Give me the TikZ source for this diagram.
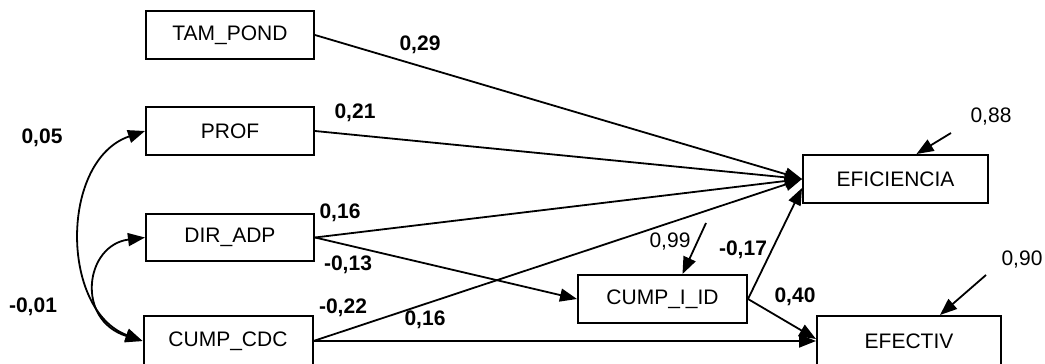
\documentclass[tikz,border=0pt]{standalone}
\usepackage{fontspec}
\setmainfont{Liberation Sans}
\usetikzlibrary{arrows.meta}
\begin{document}
\begin{tikzpicture}[x=1pt,y=-1pt,
  var/.style={draw,line width=2pt,minimum height=48pt,inner sep=0pt,font=\fontsize{21}{24}\selectfont},
  path/.style={line width=1.8pt,-{Triangle[length=17pt,width=13pt]}},
  cov/.style={line width=1.8pt,{Triangle[length=17pt,width=13pt]}-{Triangle[length=17pt,width=13pt]}},
  coef/.style={font=\fontsize{21}{24}\selectfont\bfseries},
  resid/.style={font=\fontsize{21}{24}\selectfont}]
\useasboundingbox (0,0) rectangle (1045,364);

% observed variables
\node[var,minimum width=168pt] (tam) at (230,35) {TAM\_POND};
\node[var,minimum width=168pt] (prof) at (230,131) {PROF};
\node[var,minimum width=168pt,minimum height=47pt] (dir) at (230,237.5) {DIR\_ADP};
\node[var,minimum width=169pt,minimum height=50pt] (cdc) at (228,341) {CUMP\_CDC};
\node[var,minimum width=169pt] (iid) at (662.5,299) {CUMP\_I\_ID};
\node[var,minimum width=185pt] (efi) at (895.5,179) {EFICIENCIA};
\node[var,minimum width=184pt,minimum height=50pt] (efe) at (909,341) {EFECTIV};

% residual sources
\coordinate (e88) at (951,133);
\coordinate (e90) at (986,275);
\coordinate (e99) at (706,223);

% direct effects
\draw[path] (tam.east) -- (efi.west);
\draw[path] (prof.east) -- (efi.west);
\draw[path] (dir.east) -- (efi.west);
\draw[path] (cdc.east) -- (efi.west);
\draw[path] (dir.east) -- (iid.west);
\draw[path] (iid.east) -- ([yshift=-9pt]efi.west);
\draw[path] (iid.east) -- ([yshift=2pt]efe.west);
\draw[path] (cdc.east) -- (efe.west);

% residuals
\draw[path] (e88) -- ([xshift=21pt]efi.north);
\draw[path] (e90) -- ([xshift=31pt]efe.north);
\draw[path] (e99) -- ([xshift=20pt]iid.north);

% correlations
\draw[cov] (prof.west) .. controls (60,160) and (60,310) .. (cdc.west);
\draw[cov] (dir.west) .. controls (85,245) and (75,320) .. (cdc.west);

% coefficients
\node[coef] (c1) at (420,45) {0,29};
\node[coef] (c2) at (355,113) {0,21};
\node[coef] (c3) at (340,213) {0,16};
\node[coef] (c4) at (348,265) {-0,13};
\node[coef] (c5) at (343,308) {-0,22};
\node[coef] (c6) at (425,320) {0,16};
\node[coef] (c7) at (743,250) {-0,17};
\node[coef] (c8) at (795,297) {0,40};
\node[coef] (c9) at (42,138) {0,05};
\node[coef] (c10) at (33,307) {-0,01};
\node[resid] (r1) at (991,117) {0,88};
\node[resid] (r2) at (1022,260) {0,90};
\node[resid] (r3) at (670,242) {0,99};
\end{tikzpicture}
\end{document}
